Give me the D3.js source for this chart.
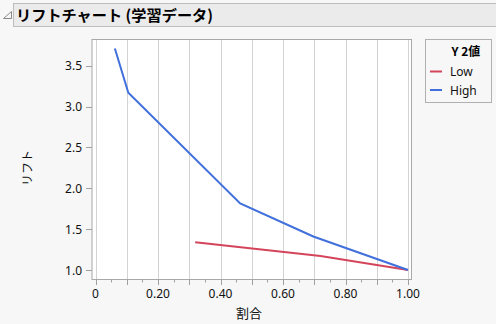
<!DOCTYPE html>
<html>
<head>
<meta charset="utf-8">
<script src="https://cdn.jsdelivr.net/npm/d3@7"></script>
<style>
  body { margin: 0; background: #f7f7f7; }
  svg { display: block; }
</style>
</head>
<body>
<div class="svg-container"></div>
<script>
var width = 496, height = 324;

var titleText = "リフトチャート (学習データ)";
var xLabel = "割合";
var yLabel = "リフト";
var legendTitle = "Y 2値";

var seriesNames = ["Low", "High"];
var seriesColors = ["#d4455b", "#4170dc"];

var lowX = [0.319, 0.72, 1.0];
var lowY = [1.34, 1.172, 1.0];
var highX = [0.062, 0.105, 0.463, 0.697, 1.0];
var highY = [3.71, 3.17, 1.815, 1.41, 1.0];

var xTickLabels = [0, 0.2, 0.4, 0.6, 0.8, 1.0];
var yTickValues = [1.0, 1.5, 2.0, 2.5, 3.0, 3.5];

var frame = {left: 92, right: 411.5, top: 39.5, bottom: 279.5};

var x = d3.scaleLinear().domain([0, 1]).range([95.5, 408]);
var y = d3.scaleLinear().domain([1, 3.5]).range([270, 65.7]);

var svg = d3.select(".svg-container").append("svg")
  .attr("width", width).attr("height", height);

svg.append("rect").attr("width", width).attr("height", height).attr("fill", "#f7f7f7");

// title bar
svg.append("rect")
  .attr("x", 13.5).attr("y", 3.5).attr("width", 490).attr("height", 23)
  .attr("fill", "#ebebeb").attr("stroke", "#bdbdbd");
svg.append("path")
  .attr("d", "M3.5,18.5 L11.5,18.5 L11.5,11.5 Z")
  .attr("fill", "none").attr("stroke", "#8a8a8a");
svg.append("text")
  .attr("x", 16).attr("y", 21)
  .attr("font-family", "'Noto Sans CJK JP', sans-serif")
  .attr("font-weight", "bold").attr("font-size", 15.2)
  .attr("fill", "#000")
  .text(titleText);

// plot area
svg.append("rect")
  .attr("x", frame.left).attr("y", frame.top)
  .attr("width", frame.right - frame.left).attr("height", frame.bottom - frame.top)
  .attr("fill", "#fff");

svg.append("g").selectAll("line")
  .data(d3.range(0, 11).map(d => d / 10))
  .enter().append("line")
  .attr("x1", d => Math.round(x(d)) + 0.5).attr("x2", d => Math.round(x(d)) + 0.5)
  .attr("y1", frame.top).attr("y2", frame.bottom)
  .attr("stroke", "#d3d3d3");

var line = d3.line().x(d => x(d[0])).y(d => y(d[1]));
var seriesData = [
  d3.zip(lowX, lowY),
  d3.zip(highX, highY)
];

svg.append("g").selectAll("path")
  .data(seriesData)
  .enter().append("path")
  .attr("d", line)
  .attr("fill", "none")
  .attr("stroke", (d, i) => seriesColors[i])
  .attr("stroke-width", 2);

svg.append("rect")
  .attr("x", frame.left).attr("y", frame.top)
  .attr("width", frame.right - frame.left).attr("height", frame.bottom - frame.top)
  .attr("fill", "none").attr("stroke", "#a8a8a8");

// x axis
var tickFont = "'Segoe UI', 'Noto Sans', sans-serif";
var xAxis = svg.append("g").attr("transform", "translate(0," + frame.bottom + ")");
xAxis.selectAll("line")
  .data(d3.range(0, 21).map(d => d / 20))
  .enter().append("line")
  .attr("x1", d => Math.round(x(d)) + 0.5).attr("x2", d => Math.round(x(d)) + 0.5)
  .attr("y1", 0).attr("y2", (d, i) => i % 2 ? 3 : 5.5)
  .attr("stroke", "#a0a0a0");
xAxis.selectAll("text")
  .data(xTickLabels)
  .enter().append("text")
  .attr("x", d => x(d)).attr("y", 18.5)
  .attr("text-anchor", "middle")
  .attr("font-family", tickFont).attr("font-size", 12)
  .attr("fill", "#111")
  .text(d => d === 0 ? "0" : d3.format(".2f")(d));

svg.append("text")
  .attr("x", 249).attr("y", 318)
  .attr("text-anchor", "middle")
  .attr("font-family", "'Noto Sans CJK JP', sans-serif").attr("font-size", 13)
  .attr("fill", "#111")
  .text(xLabel);

// y axis
var yAxis = svg.append("g").attr("transform", "translate(" + frame.left + ",0)");
yAxis.selectAll("line")
  .data(yTickValues)
  .enter().append("line")
  .attr("x1", -6).attr("x2", 0)
  .attr("y1", d => Math.round(y(d)) + 0.5).attr("y2", d => Math.round(y(d)) + 0.5)
  .attr("stroke", "#a0a0a0");
yAxis.selectAll("text")
  .data(yTickValues)
  .enter().append("text")
  .attr("x", -10).attr("y", d => y(d) + 4.5)
  .attr("text-anchor", "end")
  .attr("font-family", tickFont).attr("font-size", 12)
  .attr("fill", "#111")
  .text(d => d3.format(".1f")(d));

svg.append("text")
  .attr("transform", "translate(32,168) rotate(-90)")
  .attr("text-anchor", "middle")
  .attr("font-family", "'Noto Sans CJK JP', sans-serif").attr("font-size", 12)
  .attr("fill", "#111")
  .text(yLabel);

// legend
var legend = svg.append("g");
legend.append("rect")
  .attr("x", 425.5).attr("y", 39.5).attr("width", 66).attr("height", 63)
  .attr("fill", "#f7f7f7").attr("stroke", "#b0b0b0");
legend.append("text")
  .attr("x", 466).attr("y", 56)
  .attr("text-anchor", "middle")
  .attr("font-family", "'Noto Sans CJK JP', sans-serif")
  .attr("font-weight", "bold").attr("font-size", 12)
  .attr("fill", "#000")
  .text(legendTitle);
var items = legend.selectAll("g.item")
  .data(seriesNames)
  .enter().append("g")
  .attr("class", "item")
  .attr("transform", (d, i) => "translate(0," + (71.5 + i * 18.5) + ")");
items.append("line")
  .attr("x1", 430).attr("x2", 442)
  .attr("stroke", (d, i) => seriesColors[i]).attr("stroke-width", 2);
items.append("text")
  .attr("x", 450).attr("y", 4.5)
  .attr("font-family", tickFont).attr("font-size", 12)
  .attr("fill", "#111")
  .text(d => d);
</script>
</body>
</html>
